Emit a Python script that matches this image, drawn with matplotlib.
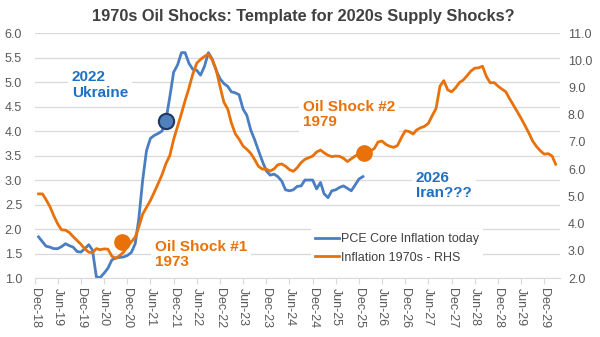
import pandas as pd
import matplotlib
matplotlib.use('Agg')
import matplotlib.pyplot as plt
from matplotlib.lines import Line2D

plt.rcParams['font.family'] = ['Liberation Sans', 'DejaVu Sans']

# Core PCE inflation, monthly from Jan-19 (left axis)
pce_core = [1.84, 1.74, 1.65, 1.63, 1.60, 1.60, 1.64, 1.70, 1.66, 1.63, 1.54, 1.53,
            1.60, 1.68, 1.57, 1.02, 1.01, 1.10, 1.20, 1.37, 1.41, 1.42, 1.43, 1.46,
            1.52, 1.70, 2.20, 3.00, 3.60, 3.85, 3.91, 3.95, 4.00, 4.22, 4.70, 5.20,
            5.35, 5.60, 5.60, 5.38, 5.26, 5.24, 5.14, 5.32, 5.60, 5.47, 5.24, 5.07,
            4.97, 4.91, 4.80, 4.78, 4.74, 4.45, 4.32, 4.02, 3.82, 3.60, 3.38, 3.19,
            3.10, 3.12, 3.07, 2.98, 2.80, 2.78, 2.80, 2.87, 2.88, 3.00, 3.00, 3.00,
            2.82, 2.95, 2.72, 2.64, 2.78, 2.80, 2.85, 2.88, 2.83, 2.78, 2.90, 3.02,
            3.07]

# 1970s inflation shifted onto today's calendar (right axis)
infl_1970s = [5.09, 5.09, 4.88, 4.62, 4.29, 3.99, 3.77, 3.76, 3.67, 3.52, 3.38, 3.24,
              3.07, 2.95, 2.93, 3.08, 3.04, 3.07, 3.06, 2.80, 2.72, 2.82, 2.95, 3.15,
              3.33, 3.50, 3.87, 4.35, 4.60, 4.85, 5.15, 5.47, 5.80, 6.20, 6.50, 7.09,
              7.57, 8.05, 8.51, 8.98, 9.49, 9.89, 10.03, 10.14, 10.23, 10.01, 9.66, 9.05,
              8.46, 8.20, 7.70, 7.30, 7.10, 6.85, 6.73, 6.58, 6.35, 6.10, 6.00, 6.00,
              5.93, 6.01, 6.16, 6.19, 6.11, 5.98, 5.92, 6.05, 6.24, 6.36, 6.42, 6.48,
              6.63, 6.70, 6.60, 6.51, 6.46, 6.48, 6.47, 6.40, 6.28, 6.38, 6.48, 6.55,
              6.61, 6.60, 6.66, 6.76, 7.00, 7.03, 6.91, 6.84, 6.80, 6.87, 7.16, 7.41,
              7.38, 7.29, 7.44, 7.52, 7.57, 7.68, 7.96, 8.23, 9.05, 9.25, 8.91, 8.84,
              8.98, 9.18, 9.27, 9.43, 9.60, 9.71, 9.72, 9.78, 9.40, 9.17, 9.18, 9.05,
              8.94, 8.84, 8.60, 8.36, 8.12, 7.87, 7.61, 7.33, 7.03, 6.83, 6.67, 6.55,
              6.57, 6.48, 6.18]

pce_dates = pd.date_range('2019-01-01', periods=len(pce_core), freq='MS')
infl_dates = pd.date_range('2019-01-01', periods=len(infl_1970s), freq='MS')

# highlighted points
ukraine_pt = (pd.Timestamp('2021-10-01'), 4.20)
shock1_pt = (pd.Timestamp('2020-10-20'), 3.33)
shock2_pt = (pd.Timestamp('2026-01-10'), 6.60)

tick_dates = pd.date_range('2018-12-01', '2029-12-01', freq='6MS')
tick_labels = [d.strftime('%b-%y') for d in tick_dates]

blue = '#4A7EC2'
orange = '#E8710A'
txt_blue = '#1F70C1'
grey = '#595959'

fig = plt.figure(figsize=(6, 3.37), dpi=100)
ax = fig.add_axes([0.0577, 0.175, 0.875, 0.727])
ax2 = ax.twinx()

ax.plot(pce_dates, pce_core, color=blue, lw=2.0, solid_joinstyle='round')
ax2.plot(infl_dates, infl_1970s, color=orange, lw=2.0, solid_joinstyle='round')

ax.plot(*ukraine_pt, 'o', ms=11, mfc='#4F81BD', mec='#1F3864', mew=1.5)
ax2.plot(*shock1_pt, 'o', ms=11, color=orange)
ax2.plot(*shock2_pt, 'o', ms=11, color=orange)

ax.set_xlim(pd.Timestamp('2018-12-01'), pd.Timestamp('2030-04-01'))
ax.set_ylim(1.0, 6.0)
ax2.set_ylim(2.0, 11.0)
ax.set_yticks([1.0 + 0.5 * i for i in range(11)])
ax2.set_yticks(range(2, 12))
ax.yaxis.set_major_formatter(plt.FormatStrFormatter('%.1f'))
ax2.yaxis.set_major_formatter(plt.FormatStrFormatter('%.1f'))

ax.set_xticks(tick_dates)
ax.set_xticklabels(tick_labels, rotation=-90)

ax.grid(axis='y', color='#D9D9D9', lw=0.9)
ax.set_axisbelow(True)
for a in (ax, ax2):
    for s in a.spines.values():
        s.set_visible(False)
ax.spines['bottom'].set_visible(True)
ax.spines['bottom'].set_color('#D9D9D9')

ax.tick_params(axis='x', colors=grey, labelsize=9, length=4, color='#D9D9D9', pad=3)
ax.tick_params(axis='y', colors=grey, labelsize=9, length=0, pad=9)
ax2.tick_params(axis='y', colors=grey, labelsize=9, length=0, pad=6)

fig.text(0.505, 0.952, '1970s Oil Shocks: Template for 2020s Supply Shocks?',
         ha='center', va='center', fontsize=11.8, fontweight='bold', color='#404040')

box = dict(facecolor='white', edgecolor='none', pad=3)
notes = [
    (0.071, 0.788, '2022\nUkraine', txt_blue),
    (0.511, 0.667, 'Oil Shock #2\n1979', orange),
    (0.229, 0.096, 'Oil Shock #1\n1973', orange),
    (0.726, 0.378, '2026\nIran???', txt_blue),
]
for x, y, s, c in notes:
    ax2.text(x, y, s, transform=ax2.transAxes, fontsize=11, fontweight='bold',
             color=c, va='center', ha='left', linespacing=1.1, bbox=box)

handles = [Line2D([], [], color=blue, lw=2.0), Line2D([], [], color=orange, lw=2.0)]
leg = ax2.legend(handles, ['PCE Core Inflation today', 'Inflation 1970s - RHS'],
                 loc='upper left', bbox_to_anchor=(0.515, 0.225), fontsize=9,
                 frameon=True, fancybox=False, handlelength=1.9, handletextpad=0.2,
                 labelspacing=0.55, borderpad=0.3, labelcolor='#404040')
leg.get_frame().set_facecolor('white')
leg.get_frame().set_edgecolor('none')
leg.get_frame().set_alpha(1)

fig.savefig('out.png', dpi=100)
